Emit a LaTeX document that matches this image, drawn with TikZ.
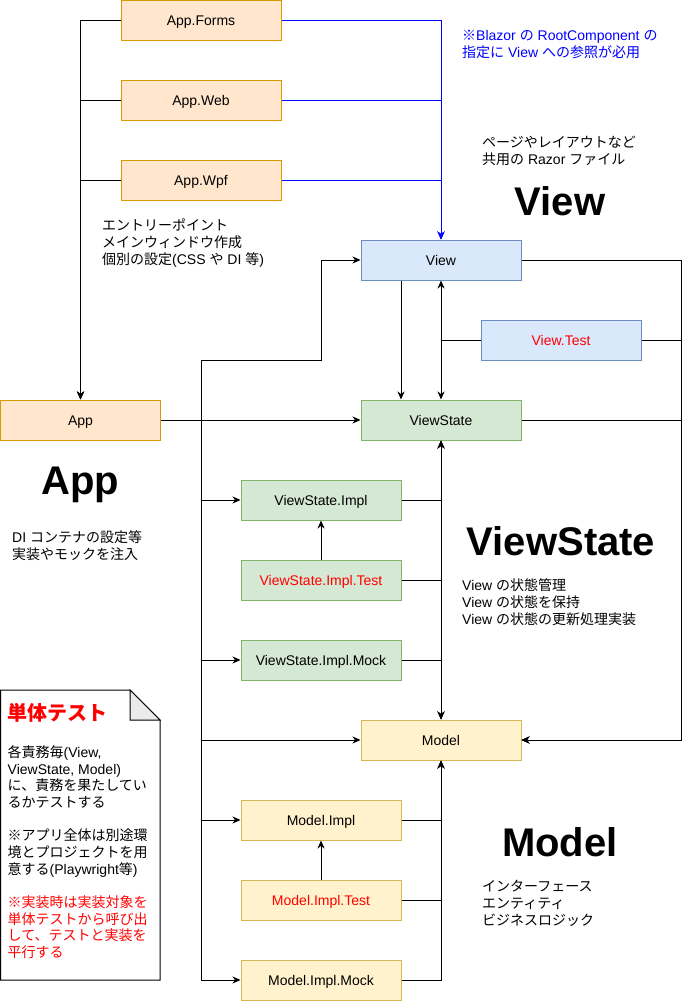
\documentclass[tikz,border=0pt]{standalone}
\usepackage{fontspec}
\setmainfont{Liberation Sans}
\newfontfamily\jp{Noto Sans CJK JP}
\usetikzlibrary{arrows.meta}
% automatic switch to the Japanese font for CJK characters
\XeTeXinterchartokenstate=1
\newXeTeXintercharclass\jpclass
\newcount\jpc
\def\jprange#1#2{\jpc=#1\relax\loop\XeTeXcharclass\jpc=\jpclass\relax\ifnum\jpc<#2\relax\advance\jpc by 1\relax\repeat}
\jprange{"3000}{"30FF}
\jprange{"4E00}{"9FFF}
\jprange{"FF00}{"FFEF}
\XeTeXcharclass"203B=\jpclass
\XeTeXinterchartoks 0 \jpclass = {\begingroup\jp}
\XeTeXinterchartoks 4095 \jpclass = {\begingroup\jp}
\XeTeXinterchartoks \jpclass 0 = {\endgroup}
\XeTeXinterchartoks \jpclass 4095 = {\endgroup}
\definecolor{orF}{HTML}{FFE6CC}\definecolor{orD}{HTML}{D79B00}
\definecolor{blF}{HTML}{DAE8FC}\definecolor{blD}{HTML}{6C8EBF}
\definecolor{grF}{HTML}{D5E8D4}\definecolor{grD}{HTML}{82B366}
\definecolor{ylF}{HTML}{FFF2CC}\definecolor{ylD}{HTML}{D6B656}
\definecolor{tred}{HTML}{FF0000}
\definecolor{tblue}{HTML}{0000FF}
\definecolor{foldF}{HTML}{EBEBEB}
\tikzset{
  box/.style={draw, line width=1pt, minimum width=160pt, minimum height=40pt, inner sep=0pt, text height=10pt, text depth=0pt, font=\fontsize{14}{16.8}\selectfont},
  orbox/.style={box, fill=orF, draw=orD},
  blbox/.style={box, fill=blF, draw=blD},
  grbox/.style={box, fill=grF, draw=grD},
  ylbox/.style={box, fill=ylF, draw=ylD},
  arr/.style={line width=1pt, -{Stealth[length=8pt,width=7pt,inset=2.5pt]}},
  blarr/.style={arr, draw=tblue, -{Stealth[length=8pt,width=7pt,inset=2.5pt,fill=tblue]}},
  lbl/.style={anchor=north west, inner sep=0pt, align=left, font=\fontsize{14}{16.8}\selectfont},
  ttl/.style={anchor=base, inner sep=0pt, font=\fontsize{40}{48}\selectfont\bfseries},
}
\begin{document}
\begin{tikzpicture}[x=1pt,y=-1pt]
\useasboundingbox (0,0) rectangle (690,1001);
% note
\draw[line width=1pt, fill=white] (0.5,690) -- (130,690) -- (160,720) -- (160,980) -- (0.5,980) -- cycle;
\draw[line width=1pt, fill=foldF] (130,690) -- (130,720) -- (160,720) -- cycle;
% boxes
\node[orbox] (forms) at (201,20) {App.Forms};
\node[orbox] (web) at (201,100) {App.Web};
\node[orbox] (wpf) at (201,180) {App.Wpf};
\node[orbox] (app) at (80.5,420) {App};
\node[blbox] (view) at (441,260) {View};
\node[blbox, text=tred] (vt) at (561,340) {View.Test};
\node[grbox] (vs) at (441,420) {ViewState};
\node[grbox] (vsi) at (321,500) {ViewState.Impl};
\node[grbox, text=tred] (vsit) at (321,580) {ViewState.Impl.Test};
\node[grbox] (vsim) at (321,660) {ViewState.Impl.Mock};
\node[ylbox] (model) at (441,740) {Model};
\node[ylbox] (mi) at (321,820) {Model.Impl};
\node[ylbox, text=tred] (mit) at (321,900) {Model.Impl.Test};
\node[ylbox] (mim) at (321,980) {Model.Impl.Mock};
% junction points
\coordinate (j) at (201,420);
\coordinate (k) at (321,360);
\coordinate (rx) at (681,260);
% app variants -> App
\draw[arr] (forms.west) -| (app.north);
\draw[arr] (web.west) -| (app.north);
\draw[arr] (wpf.west) -| (app.north);
% app variants -> View (blue)
\draw[blarr] (forms.east) -| (view.north);
\draw[blarr] (web.east) -| (view.north);
\draw[blarr] (wpf.east) -| (view.north);
% App -> ...
\draw[arr] (app.east) -- (vs.west);
\draw[arr] (app.east) -- (j) |- (k) |- (view.west);
\draw[arr] (app.east) -- (j) |- (vsi.west);
\draw[arr] (app.east) -- (j) |- (vsim.west);
\draw[arr] (app.east) -- (j) |- (model.west);
\draw[arr] (app.east) -- (j) |- (mi.west);
\draw[arr] (app.east) -- (j) |- (mim.west);
% View layer
\draw[arr] ([xshift=-40pt]view.south) -- ([xshift=-40pt]vs.north);
\draw[arr] (vt.west) -| (view.south);
\draw[arr] (vt.west) -| (vs.north);
\draw[arr] (view.east) -- (rx) |- (model.east);
\draw[arr] (vt.east) -- (vt.east -| rx) |- (model.east);
\draw[arr] (vs.east) -- (vs.east -| rx) |- (model.east);
% ViewState layer
\draw[arr] (vsi.east) -| (vs.south);
\draw[arr] (vsi.east) -| (model.north);
\draw[arr] (vsit.east) -| (vs.south);
\draw[arr] (vsit.east) -| (model.north);
\draw[arr] (vsim.east) -| (vs.south);
\draw[arr] (vsim.east) -| (model.north);
\draw[arr] (vsit.north) -- (vsi.south);
% Model layer
\draw[arr] (mi.east) -| (model.south);
\draw[arr] (mit.east) -| (model.south);
\draw[arr] (mim.east) -| (model.south);
\draw[arr] (mit.north) -- (mi.south);
% texts
\node[lbl, text=tblue] (blz) at (462,27.3) {\rule{0pt}{13pt}※Blazor の RootComponent の\\指定に View への参照が必用};
\node[lbl] (pg) at (482,134) {\rule{0pt}{13pt}ページやレイアウトなど\\共用の Razor ファイル};
\node[lbl] (ent) at (102,217.3) {\rule{0pt}{13pt}エントリーポイント\\メインウィンドウ作成\\個別の設定(CSS や DI 等)};
\node[lbl] (di) at (12,529.3) {\rule{0pt}{13pt}DI コンテナの設定等\\実装やモックを注入};
\node[lbl] (vsd) at (462,577.3) {\rule{0pt}{13pt}View の状態管理\\View の状態を保持\\View の状態の更新処理実装};
\node[lbl] (md) at (482,878.3) {\rule{0pt}{13pt}インターフェース\\エンティティ\\ビジネスロジック};
\node[ttl] (tview) at (560,215) {View};
\node[ttl] (tapp) at (80,494) {App};
\node[ttl] (tvs) at (561,555) {ViewState};
\node[ttl] (tmodel) at (560,856) {Model};
% note texts
\node[anchor=base west, inner sep=0pt, font=\fontsize{20}{24}\selectfont\bfseries, text=tred] (nt) at (7.5,720.5) {単体テスト};
\node[lbl] (n1) at (7.5,744) {\rule{0pt}{13pt}各責務毎(View,\\ViewState, Model)\\に、責務を果たしてい\\るかテストする};
\node[lbl] (n2) at (7.5,827.3) {\rule{0pt}{13pt}※アプリ全体は別途環\\境とプロジェクトを用\\意する(Playwright等)};
\node[lbl, text=tred] (n3) at (7.5,894) {\rule{0pt}{13pt}※実装時は実装対象を\\単体テストから呼び出\\して、テストと実装を\\平行する};
\end{tikzpicture}
\end{document}
